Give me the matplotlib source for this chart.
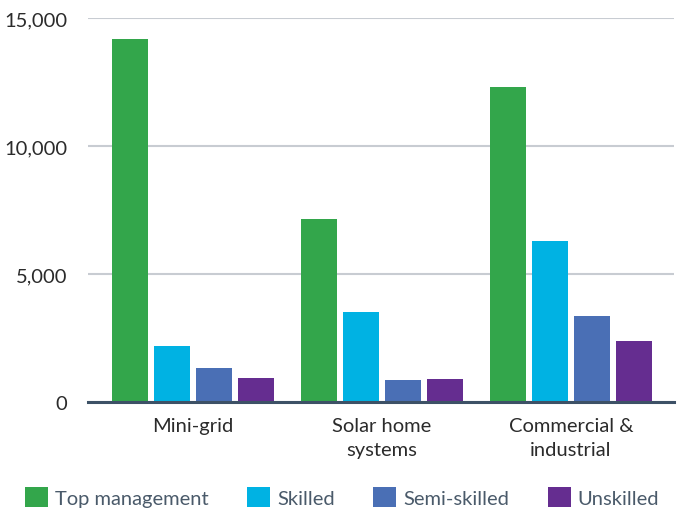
import numpy as np
from matplotlib import pyplot as plt

plt.rcParams['font.family'] = ['Lato', 'DejaVu Sans']

categories = ['Mini-grid', 'Solar home\nsystems', 'Commercial &\nindustrial']
series = ['Top management', 'Skilled', 'Semi-skilled', 'Unskilled']
top_management = [14180, 7130, 12300]
skilled = [2200, 3500, 6280]
semi_skilled = [1310, 840, 3350]
unskilled = [930, 900, 2370]
colors = ['#33a64b', '#00b2e3', '#4a6fb5', '#652d90']

values = [top_management, skilled, semi_skilled, unskilled]

fig = plt.figure(figsize=(6.78, 5.10), dpi=100)
ax = fig.add_axes([0.1298, 0.2098, 0.8642, 0.7529])

x = np.arange(len(categories))
width = 0.19
pitch = 0.222
for i, (name, vals) in enumerate(zip(series, values)):
    ax.bar(x + (i - 1.5) * pitch, vals, width, color=colors[i], label=name, zorder=3)

ax.set_ylim(0, 15000)
ax.set_xlim(-0.556, 2.545)
ax.set_yticks([0, 5000, 10000, 15000])
ax.set_yticklabels(['0', '5,000', '10,000', '15,000'])
ax.set_xticks(x)
ax.set_xticklabels(categories, linespacing=1.45)
ax.tick_params(axis='y', length=0, pad=15, labelsize=14.5, labelcolor='#2b2b2b')
ax.tick_params(axis='x', length=0, pad=11, labelsize=14.5, labelcolor='#2b2b2b')
ax.grid(axis='y', color='#c8ccd2', linewidth=1.5, zorder=0)
for s in ['top', 'right', 'left']:
    ax.spines[s].set_visible(False)
ax.spines['bottom'].set_color('#3d5166')
ax.spines['bottom'].set_linewidth(2.2)
ax.spines['bottom'].set_zorder(4)

leg = fig.legend(loc='center left', bbox_to_anchor=(0.0369, 0.0235), ncol=4, frameon=False,
                 fontsize=14.5, handlelength=1.15, handleheight=1.1, handletextpad=0.35,
                 columnspacing=1.9, borderpad=0, borderaxespad=0, labelcolor='#4a5a6a')

fig.savefig('out.png', dpi=100)
